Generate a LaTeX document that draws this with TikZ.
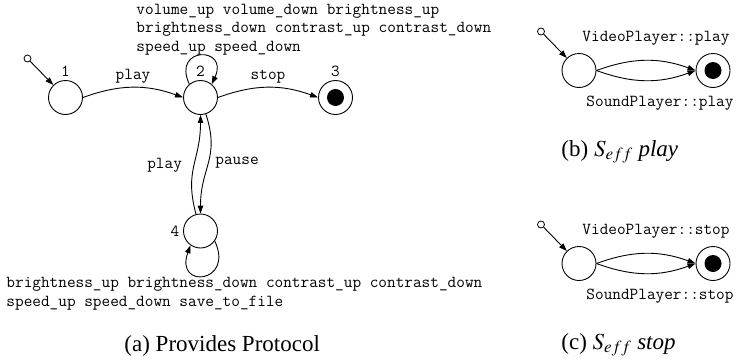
\documentclass[tikz,border=0pt]{standalone}
\usepackage{mathptmx}
\usepackage{fontspec}
\setmainfont{Liberation Serif}
\usetikzlibrary{arrows.meta,positioning}

\begin{document}
\begin{tikzpicture}[x=1pt,y=-1pt,>={Triangle[length=8pt,width=5.5pt]},
                line width=0.9pt,node distance=135pt,on grid,
                state/.style={circle,draw,minimum size=34pt,inner sep=0pt},
                final/.style={state,path picture={\fill (path picture bounding box.center) circle (8.5pt);}},
                init/.style={circle,draw,minimum size=7pt,inner sep=0pt,line width=0.8pt},
                lbl/.style={font=\fontsize{16.8}{18.5}\ttfamily\selectfont},
                caption node/.style={font=\fontsize{23}{26}\selectfont,anchor=west,inner sep=0pt}]
                \useasboundingbox (0,0) rectangle (737,362);
                % (a) provides protocol
                \node[state,label={[lbl]above:1}] (1) at (65.5,97.5) {};
                \node[state,label={[lbl]above:2}] (2) [right=of 1] {};
                \node[final,label={[lbl]above:3}] (3) [right=of 2] {};
                \node[state,label={[lbl]left:4}] (4) [below=133.5pt of 2] {};
                \node[init] (i1) [above left=39pt and 38pt of 1] {};
                \node[lbl,align=left,anchor=north west,inner sep=0pt] (keys2) at (136,3.7)
                  {volume\_up volume\_down brightness\_up\\
                   brightness\_down contrast\_up contrast\_down\\
                   speed\_up speed\_down};
                \node[lbl,align=left,anchor=north west,inner sep=0pt] (keys4) at (6,277)
                  {brightness\_up brightness\_down contrast\_up contrast\_down\\
                   speed\_up speed\_down save\_to\_file};
                \node[caption node] (capa) at (124,346) {(a) Provides Protocol};

                % (b) and (c) effects
                \node[state] (p0) at (579,70.5) {};
                \node[final] (pf) [right=134pt of p0] {};
                \node[init] (ip) [above left=39pt and 38pt of p0] {};
                \node[state] (s0) [below=193pt of p0] {};
                \node[final] (sf) [right=134pt of s0] {};
                \node[init] (is) [above left=39pt and 38pt of s0] {};
                \node[caption node] (capb) at (561,152) {(b) $S_{eff}$ \textit{play}};
                \node[caption node] (capc) at (561,345) {(c) $S_{eff}$ \textit{stop}};

                \path[->,every node/.style={lbl}]
                (i1) edge (1)
                (1.east) edge[out=20,in=160] node[above] {play} (2.west)
                (2.east) edge[out=20,in=160] node[above] {stop} (3.west)
                (2.130) edge[out=115,in=65,min distance=42pt,looseness=1] (2.50)
                (4) edge[out=105,in=-90,looseness=1.2] node[left=8pt] {play} (2)
                (2) edge[out=-72,in=90,looseness=1.2] node[right=3pt] {pause} (4)
                (4.-35) edge[out=-65,in=-110,min distance=47pt,looseness=1] (4.-125)
                (ip) edge (p0)
                (p0.east) edge[out=20,in=160] node[above=11pt,xshift=10pt] {VideoPlayer::play} (pf.west)
                (p0.east) edge[out=-20,in=200] node[below=12pt,xshift=14pt] {SoundPlayer::play} (pf.west)
                (is) edge (s0)
                (s0.east) edge[out=20,in=160] node[above=11pt,xshift=10pt] {VideoPlayer::stop} (sf.west)
                (s0.east) edge[out=-20,in=200] node[below=12pt,xshift=14pt] {SoundPlayer::stop} (sf.west)
                ;
\end{tikzpicture}
\end{document}
